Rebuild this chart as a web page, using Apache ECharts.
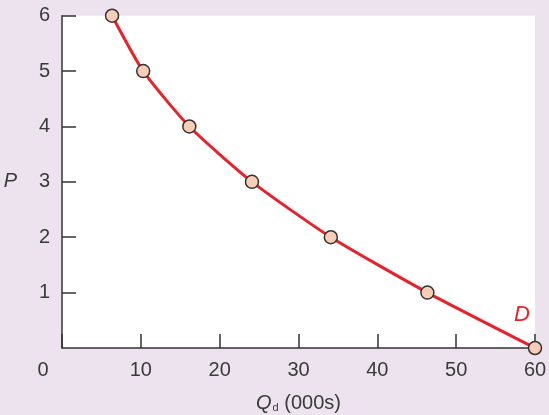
<!DOCTYPE html>
<html>
<head>
<meta charset="utf-8">
<script src="https://cdn.jsdelivr.net/npm/echarts@6/dist/echarts.min.js"></script>
<style>
html,body{margin:0;padding:0;background:#ece3ef;}
#c{width:549px;height:415px;}
</style>
</head>
<body>
<div id="c"></div>
<script>
const quantity = [6.35, 10.3, 16.15, 24.1, 34.1, 46.35, 60];
const price = [6, 5, 4, 3, 2, 1, 0];
const xTicks = [0, 10, 20, 30, 40, 50, 60];
const yTicks = [0, 1, 2, 3, 4, 5, 6];
const curveName = 'D';

const FONT = '"Liberation Sans", Arial, sans-serif';
const TXT = '#3a3a3a';
const chart = echarts.init(document.getElementById('c'), null, {renderer: 'canvas'});
const data = quantity.map((q, i) => [q, price[i]]);

chart.setOption({
  backgroundColor: '#ece3ef',
  animation: false,
  grid: {left: 62, right: 14, top: 15.7, bottom: 67, show: true, backgroundColor: '#ffffff', borderWidth: 0,
         containLabel: false, outerBoundsMode: 'none'},
  xAxis: {
    type: 'value', min: xTicks[0], max: xTicks[xTicks.length - 1], interval: 10,
    splitLine: {show: false},
    axisLine: {show: true, lineStyle: {color: '#333', width: 1.5}},
    axisTick: {show: true, inside: true, length: 14, lineStyle: {color: '#333', width: 1.5}},
    axisLabel: {
      margin: 12, color: TXT, fontSize: 20, fontFamily: FONT,
      formatter: v => v === 0 ? '{z|0}' : String(v),
      rich: {z: {fontSize: 20, fontFamily: FONT, color: TXT, padding: [0, 38, 0, 0]}}
    },
    name: '{q|Q}{d|d}{t| (000s)}',
    nameLocation: 'middle', nameGap: 41,
    nameTextStyle: {
      rich: {
        q: {fontSize: 20, fontStyle: 'italic', fontFamily: FONT, color: TXT, verticalAlign: 'bottom', lineHeight: 24},
        d: {fontSize: 11, fontFamily: FONT, color: TXT, verticalAlign: 'bottom', lineHeight: 10, padding: [0, 0, 0, 1]},
        t: {fontSize: 20, fontFamily: FONT, color: TXT, verticalAlign: 'bottom', lineHeight: 24}
      }
    }
  },
  yAxis: {
    type: 'value', min: yTicks[0], max: yTicks[yTicks.length - 1], interval: 1,
    splitLine: {show: false},
    axisLine: {show: true, lineStyle: {color: '#333', width: 1.5}},
    axisTick: {show: true, inside: true, length: 14, lineStyle: {color: '#333', width: 1.5}},
    axisLabel: {margin: 12, color: TXT, fontSize: 20, fontFamily: FONT, showMinLabel: false},
    name: 'P', nameLocation: 'middle', nameGap: 45, nameRotate: 0,
    nameTextStyle: {fontSize: 20, fontStyle: 'italic', fontFamily: FONT, color: TXT}
  },
  series: [{
    type: 'line', data: data, smooth: 0.2, clip: false,
    symbol: 'circle', symbolSize: 13,
    lineStyle: {color: '#e8222b', width: 3},
    itemStyle: {color: '#f9cdb6', borderColor: '#333', borderWidth: 1.5},
    label: {
      show: true, position: 'top', offset: [-13, -10],
      formatter: p => p.dataIndex === data.length - 1 ? curveName : '',
      color: '#e8222b', fontSize: 22, fontStyle: 'italic', fontFamily: FONT
    },
    z: 3
  }]
});
</script>
</body>
</html>
